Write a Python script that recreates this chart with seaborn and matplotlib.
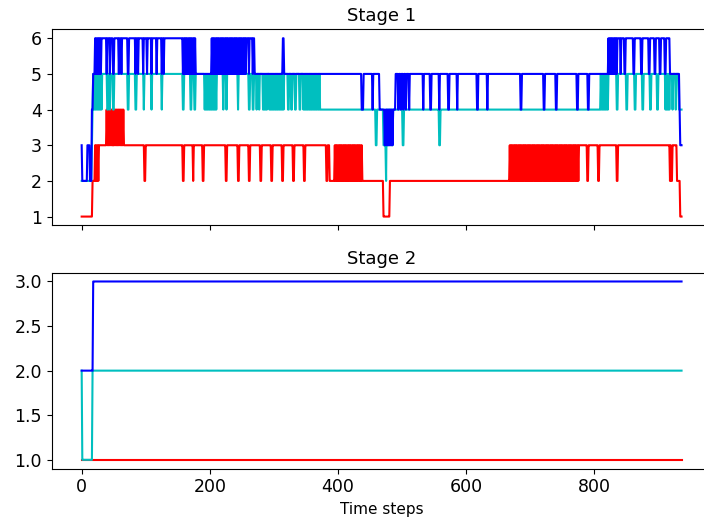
import numpy as np
import pandas as pd
import seaborn as sns
import matplotlib
matplotlib.use("Agg")
import matplotlib.pyplot as plt
from matplotlib.ticker import MultipleLocator

# keep every flip of the dense bands
plt.rcParams["path.simplify"] = False

N_STEPS = 937

# Stage 1 runs: (time step where the value starts, value)
blue_s1 = [
    (0, 3), (1, 2), (9, 3), (13, 2), (16, 4), (18, 5), (21, 6),
    (39, 5), (40, 6), (44, 5), (45, 6), (49, 5), (51, 6), (58, 5), (59, 6), (62, 5), (63, 6), (72, 5), (74, 6),
    (84, 5), (85, 6), (88, 5), (89, 6), (96, 5), (97, 6), (102, 5), (103, 6), (109, 5), (110, 6), (117, 5), (118, 6),
    (125, 5), (126, 6), (128, 5), (129, 6), (179, 5), (203, 6),
    (261, 5), (262, 6), (267, 5), (268, 6), (270, 5), (314, 6), (316, 5),
    (437, 4), (440, 5), (454, 4), (455, 5), (465, 4), (490, 5),
    (494, 4), (495, 5), (498, 4), (499, 5), (502, 4), (503, 5), (506, 4), (507, 5), (511, 4), (512, 5), (533, 4),
    (534, 5), (544, 4), (546, 5), (558, 4), (559, 5), (572, 4), (574, 5), (586, 4), (587, 5), (617, 4), (619, 5),
    (633, 4), (634, 5), (685, 4), (687, 5), (721, 4), (723, 5), (740, 4), (742, 5), (773, 4), (775, 5), (790, 4),
    (792, 5), (822, 6),
    (841, 5), (842, 6), (847, 5), (849, 6), (861, 5), (863, 6), (873, 5), (875, 6), (885, 5), (887, 6), (894, 5),
    (896, 6), (902, 5), (904, 6), (910, 5), (912, 6), (918, 5), (933, 4), (934, 3),
]
cyan_s1 = [
    (0, 2), (16, 3), (17, 4), (18, 5),
    (40, 4), (42, 5), (44, 4), (45, 5), (49, 4), (51, 5), (72, 4), (74, 5), (84, 4), (86, 5), (97, 4), (98, 5),
    (109, 4), (110, 5), (125, 4), (126, 5), (158, 4), (160, 5), (170, 4), (172, 5), (176, 4), (178, 5),
    (221, 4), (222, 5), (226, 4), (227, 5), (244, 4), (245, 5), (261, 4), (263, 5), (267, 4), (269, 5), (273, 4),
    (274, 5), (277, 4), (278, 5), (322, 4), (324, 5), (327, 4), (329, 5), (333, 4), (335, 5), (340, 4), (342, 5),
    (372, 4), (459, 3), (461, 4), (471, 3), (475, 2), (476, 3), (486, 4), (501, 3), (503, 4), (558, 3), (560, 4),
    (822, 5), (835, 4), (837, 5), (850, 4), (852, 5), (863, 4), (865, 5), (875, 4), (877, 5), (887, 4), (889, 5),
    (898, 4), (900, 5), (918, 5), (922, 4), (923, 5), (927, 4), (928, 5), (932, 4),
]
red_s1 = [
    (0, 1), (17, 2), (27, 3), (48, 3), (66, 3),
    (98, 2), (100, 3), (158, 2), (160, 3), (174, 2), (175, 3), (189, 2), (191, 3), (225, 2), (227, 3), (244, 2),
    (246, 3), (261, 2), (263, 3), (279, 2), (281, 3), (296, 2), (298, 3), (313, 2), (315, 3), (330, 2), (332, 3),
    (347, 2), (349, 3), (382, 2), (384, 3), (387, 2), (439, 2), (471, 1), (481, 2), (776, 3),
    (789, 2), (791, 3), (806, 2), (808, 3), (835, 2), (837, 3), (918, 2), (919, 3), (920, 2), (922, 3), (929, 2),
    (934, 1),
]

# Stage 1 solid bands where the value flips every step: (start, stop, first value, second value)
blue_s1_bands = [(21, 31, 6, 5), (158, 179, 5, 6), (203, 258, 6, 5), (473, 486, 3, 4), (822, 836, 6, 5)]
cyan_s1_bands = [(18, 32, 5, 4), (192, 211, 4, 5), (283, 290, 4, 5), (293, 316, 4, 5), (346, 372, 4, 5),
                 (476, 486, 4, 3), (810, 822, 5, 4), (911, 918, 4, 5)]
red_s1_bands = [(21, 27, 3, 2), (39, 48, 4, 3), (51, 66, 4, 3), (395, 439, 3, 2), (668, 776, 3, 2)]

# Stage 2 runs
blue_s2 = [(0, 2), (18, 3)]
cyan_s2 = [(0, 2), (1, 1), (17, 2)]
red_s2 = [(0, 1)]


def expand(runs, bands=(), n=N_STEPS):
    starts = [r[0] for r in runs] + [n]
    vals = [r[1] for r in runs]
    v = np.repeat(vals, np.diff(starts)).astype(float)
    for a, b, first, second in bands:
        v[a:b:2] = first
        v[a + 1:b:2] = second
    return v


t = np.arange(N_STEPS)
stages = {
    "Stage 1": [("r", red_s1, red_s1_bands), ("c", cyan_s1, cyan_s1_bands), ("b", blue_s1, blue_s1_bands)],
    "Stage 2": [("r", red_s2, ()), ("c", cyan_s2, ()), ("b", blue_s2, ())],
}

fig, axes = plt.subplots(2, 1, sharex=True, figsize=(7.04, 5.24), dpi=100)
fig.subplots_adjust(left=0.0734, right=1.0107, top=0.944, bottom=0.1055, hspace=0.24)

for ax, (title, series) in zip(axes, stages.items()):
    for color, runs, bands in series:
        df = pd.DataFrame({"t": t, "v": expand(runs, bands)})
        sns.lineplot(data=df, x="t", y="v", color=color, linewidth=1.5, estimator=None, ax=ax)
    ax.set_title(title, fontsize=13)
    ax.set_xlabel("")
    ax.set_ylabel("")
    ax.tick_params(labelsize=12.5)

axes[0].yaxis.set_major_locator(MultipleLocator(1))
axes[1].set_xlabel("Time steps", fontsize=11)

plt.savefig("out.png", dpi=100)
